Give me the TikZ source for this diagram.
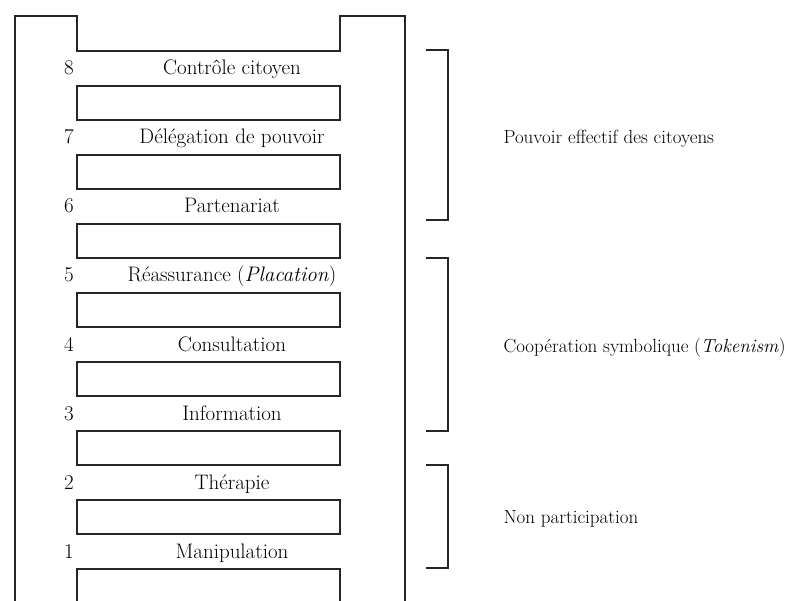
\documentclass[tikz,border=0pt]{standalone}
\usepackage{fontspec}

\tikzset{
	rung/.style={draw, rectangle, minimum width=263pt, minimum height=34pt, inner sep=0pt},
	lvltext/.style={anchor=base, inner sep=0pt, text=black, font=\fontsize{21}{24}\selectfont},
	grptext/.style={anchor=base west, inner sep=0pt, text=black, font=\fontsize{19}{22}\selectfont},
	brace/.style={line width=1.3pt}
}

\begin{document}
\begin{tikzpicture}[x=1pt, y=-1pt, line width=1.1pt, color=black!85]
		\useasboundingbox (0,0) rectangle (794,601);
		
		% Montants et haut de l'échelle
		\coordinate (basg) at (15,601);
		\coordinate (basd) at (405,601);
		\draw (basg) -- (15,16) -- (77,16) -- (77,51) -- (340,51) -- (340,16) -- (405,16) -- (basd);
		
		% Barreaux et niveaux
		\foreach \lvl/\name [count=\k from 0] in {8/{Contrôle citoyen}, 7/{Délégation de pouvoir}, 6/{Partenariat},
			5/{Réassurance (\textit{Placation})}, 4/{Consultation}, 3/{Information}, 2/{Thérapie}, 1/{Manipulation}} {
			\node[rung] (rung\lvl) at (208.5, 103+69*\k) {};
			\node[lvltext] (num\lvl) at (69, 75+69*\k) {\lvl};
			\node[lvltext] (lab\lvl) at (232, 75+69*\k) {\name};
		}
		
		% Crochets des groupes
		\draw[brace] (426,50) coordinate (pa) -- (448,50) -- (448,220) -- (426,220) coordinate (pb);
		\draw[brace] (426,258) coordinate (ca) -- (448,258) -- (448,431) -- (426,431) coordinate (cb);
		\draw[brace] (426,465) coordinate (na) -- (448,465) -- (448,568) -- (426,568) coordinate (nb);
		
		\node[grptext] (pouvoir) at (503,144) {Pouvoir effectif des citoyens};
		\node[grptext] (tokenism) at (503,352) {Coopération symbolique (\textit{Tokenism})};
		\node[grptext] (nonpart) at (503,523) {Non participation};
\end{tikzpicture}
\end{document}
